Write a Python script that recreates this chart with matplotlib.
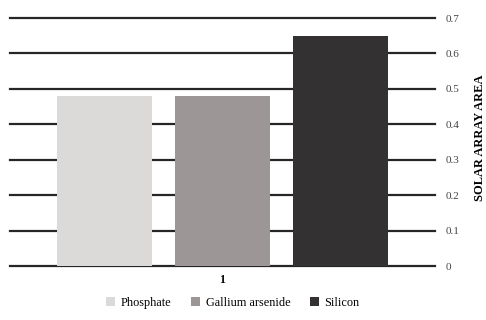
import matplotlib.pyplot as plt
from matplotlib.patches import Patch

plt.rcParams['font.family'] = ['Liberation Serif', 'DejaVu Serif']

# ----------- data -----------
categories = ['Phosphate', 'Gallium arsenide', 'Silicon']
values = [0.48, 0.48, 0.65]
colors = ['#dcd9d9', '#9c9796', '#333131']
group_label = '1'
yticks = [0, 0.1, 0.2, 0.3, 0.4, 0.5, 0.6, 0.7]

# ----------- figure -----------
fig = plt.figure(figsize=(4.86, 3.2), dpi=100)
ax = fig.add_axes([10 / 486, 54 / 320, 425 / 486, 248 / 320])

for y in yticks:
    ax.axhline(y, color='#262626', lw=1.6, zorder=1, clip_on=False)

positions = [-1, 0, 1]
ax.bar(positions, values, width=0.8, color=colors, zorder=2)

ax.set_xlim(-1.8, 1.8)
ax.set_ylim(0, 0.7)
for s in ax.spines.values():
    s.set_visible(False)

ax.set_xticks([0])
ax.set_xticklabels([group_label], fontsize=8.5, fontweight='bold')
ax.tick_params(axis='x', length=0, pad=6)

ax.yaxis.tick_right()
ax.set_yticks(yticks)
ax.set_yticklabels(['0' if v == 0 else f'{v:g}' for v in yticks], fontsize=8, color='#444444')
ax.tick_params(axis='y', length=0, pad=8)

fig.text(480 / 486, 0.57, 'SOLAR ARRAY AREA', rotation=90, fontsize=9,
         fontweight='bold', ha='center', va='center')

# ----------- legend -----------
handles = [Patch(facecolor=c) for c in colors]
fig.legend(handles, categories, loc='center', bbox_to_anchor=(233 / 486, 1 - 303 / 320),
           ncol=3, frameon=False, fontsize=8.8, handlelength=0.7, handleheight=0.7,
           handletextpad=0.5, columnspacing=1.6)

fig.savefig('out.png', dpi=100)
